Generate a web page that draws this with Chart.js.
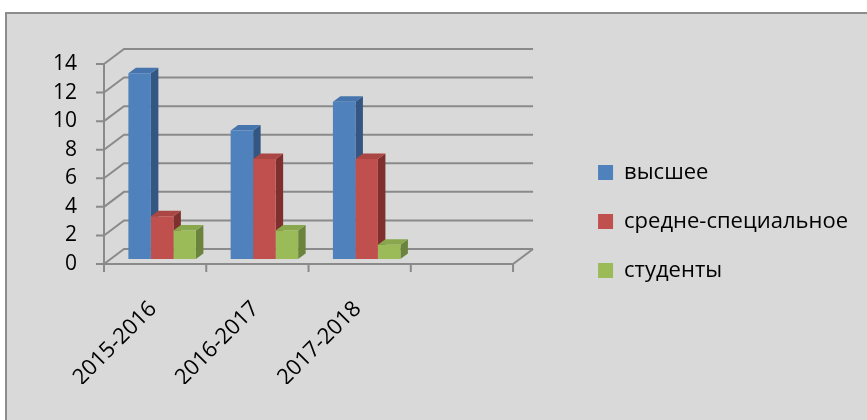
<!DOCTYPE html>
<html>
<head>
<meta charset="utf-8">
<script src="https://cdn.jsdelivr.net/npm/chart.js@4.4.0/dist/chart.umd.min.js"></script>
<style>
  body { margin: 0; background: #ffffff; }
  #frame {
    position: absolute; left: 5px; top: 12px; width: 900px; height: 450px;
    background: #d9d9d9; border: 2px solid #8c8c8c;
  }
  #wrap { position: absolute; left: 0; top: 0; width: 867px; height: 420px; }
</style>
</head>
<body>
<div id="frame"></div>
<div id="wrap"><canvas id="edu"></canvas></div>
<script>
//Data Obrazovanie//
const years = ["2015-2016", "2016-2017", "2017-2018", ""];
const vysshee = [13, 9, 11, null];
const srednee = [3, 7, 7, null];
const studenty = [2, 2, 1, null];
const yTicks = [0, 2, 4, 6, 8, 10, 12, 14];

const faceColors = [
  { side: "#345682", top: "#4674ad" },
  { side: "#7f302e", top: "#aa4643" },
  { side: "#6b843d", top: "#89a74d" }
];

// glubina 3D
const FRONT = { dx: -7, dy: 5 };
const BACK = { dx: 13, dy: -10 };
const BAR = { dx: 7.5, dy: -5.5 };

const walls3d = {
  id: "walls3d",
  beforeDatasetsDraw(chart) {
    const ctx = chart.ctx;
    const ys = chart.scales.y;
    const left = chart.chartArea.left;
    const right = chart.chartArea.right;
    ctx.save();
    ctx.strokeStyle = "#8a8a8a";
    ctx.lineWidth = 2;
    ctx.beginPath();
    yTicks.forEach((v) => {
      const y = ys.getPixelForValue(v);
      // stena
      ctx.moveTo(left + FRONT.dx, y + FRONT.dy);
      ctx.lineTo(left + BACK.dx, y + BACK.dy);
      ctx.lineTo(right + BACK.dx, y + BACK.dy);
      // tick
      ctx.moveTo(left + FRONT.dx - 8, y + FRONT.dy);
      ctx.lineTo(left + FRONT.dx, y + FRONT.dy);
    });
    const y0 = ys.getPixelForValue(0);
    const y14 = ys.getPixelForValue(14);
    ctx.moveTo(left + FRONT.dx, y14 + FRONT.dy);
    ctx.lineTo(left + FRONT.dx, y0 + FRONT.dy);
    ctx.lineTo(right + FRONT.dx, y0 + FRONT.dy);
    ctx.lineTo(right + BACK.dx, y0 + BACK.dy);
    const step = (right - left) / years.length;
    for (let i = 0; i <= years.length; i++) {
      const x = left + step * i + FRONT.dx;
      ctx.moveTo(x, y0 + FRONT.dy);
      ctx.lineTo(x, y0 + FRONT.dy + 8);
    }
    ctx.stroke();

    // bokovye i verhnie grani
    chart.data.datasets.forEach((ds, di) => {
      const meta = chart.getDatasetMeta(di);
      meta.data.forEach((bar, i) => {
        if (ds.data[i] == null) return;
        const l = bar.x - bar.width / 2;
        const r = bar.x + bar.width / 2;
        const t = bar.y;
        const b = bar.base;
        ctx.fillStyle = faceColors[di].side;
        ctx.beginPath();
        ctx.moveTo(r, t);
        ctx.lineTo(r + BAR.dx, t + BAR.dy);
        ctx.lineTo(r + BAR.dx, b + BAR.dy);
        ctx.lineTo(r, b);
        ctx.closePath();
        ctx.fill();
        ctx.fillStyle = faceColors[di].top;
        ctx.beginPath();
        ctx.moveTo(l, t);
        ctx.lineTo(l + BAR.dx, t + BAR.dy);
        ctx.lineTo(r + BAR.dx, t + BAR.dy);
        ctx.lineTo(r, t);
        ctx.closePath();
        ctx.fill();
      });
    });
    ctx.restore();
  }
};

const data = {
  labels: years,
  datasets: [
    { label: "высшее", data: vysshee, backgroundColor: "#4f81bd" },
    { label: "средне-специальное", data: srednee, backgroundColor: "#c0504d" },
    { label: "студенты", data: studenty, backgroundColor: "#9bbb59" }
  ]
};

const config = {
  type: "bar",
  data: data,
  options: {
    responsive: true,
    maintainAspectRatio: false,
    animation: false,
    layout: { padding: { left: 0, top: 59, right: 9, bottom: 36 } },
    datasets: { bar: { categoryPercentage: 0.66, barPercentage: 1 } },
    scales: {
      x: {
        grid: { display: false, drawTicks: false },
        border: { display: false },
        ticks: {
          color: "#000000",
          font: { family: "Open Sans", size: 22 },
          minRotation: 45,
          maxRotation: 45,
          labelOffset: -9,
          padding: 37
        },
        afterFit: (s) => { s.height = 125; }
      },
      y: {
        min: 0,
        max: 14,
        grid: { display: false, drawTicks: false },
        border: { display: false },
        ticks: {
          stepSize: 2,
          color: "#000000",
          font: { family: "Open Sans", size: 21 },
          padding: 34,
          labelOffset: 5
        },
        afterFit: (s) => { s.width = 111; }
      },
      gap: {
        position: "right",
        display: true,
        grid: { display: false, drawTicks: false },
        border: { display: false },
        ticks: { display: false },
        afterFit: (s) => { s.width = 51; }
      }
    },
    plugins: {
      legend: {
        position: "right",
        maxWidth: 320,
        labels: {
          color: "#000000",
          font: { family: "Open Sans", size: 22 },
          boxWidth: 15,
          boxHeight: 15,
          padding: 27
        }
      },
      tooltip: { enabled: false }
    }
  },
  plugins: [walls3d]
};
const eduChart = new Chart(document.getElementById("edu").getContext("2d"), config);
//Akhir Data//
</script>
</body>
</html>
